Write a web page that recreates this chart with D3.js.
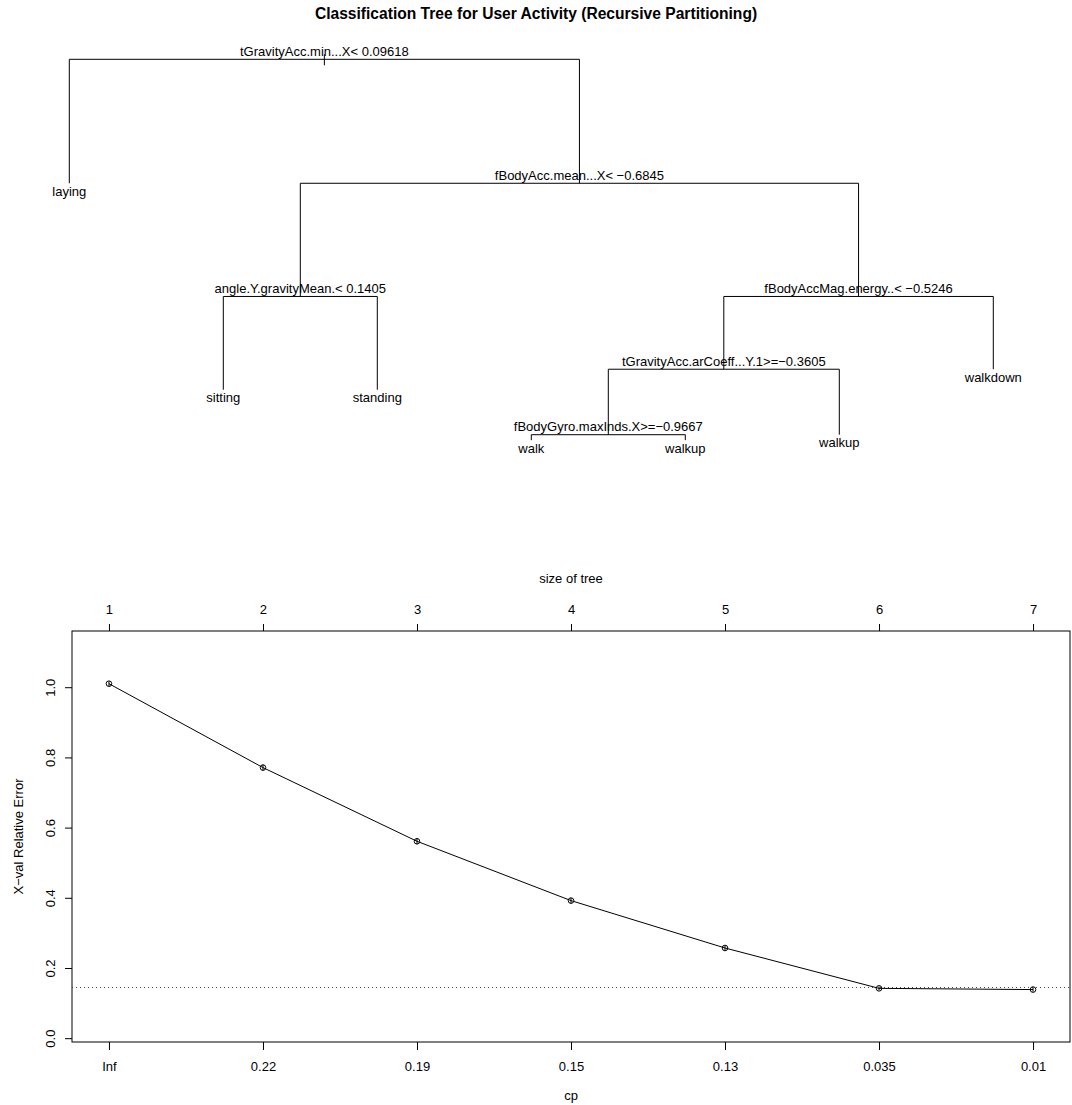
<!DOCTYPE html>
<html><head><meta charset="utf-8">
<script src="https://cdn.jsdelivr.net/npm/d3@7"></script>
<style>body{margin:0;background:#fff} svg text{font-family:"Liberation Sans",Arial,Helvetica,sans-serif;fill:#000}</style>
</head><body><script>
// ---------- data ----------
const titleText = "Classification Tree for User Activity (Recursive Partitioning)";
// rpart node numbering (child ids = 2*id, 2*id+1)
const nodeIds = [1, 2, 3, 6, 7, 12, 13, 14, 15, 28, 29, 56, 57];
const nodeLabels = [
  "tGravityAcc.min...X< 0.09618", "laying", "fBodyAcc.mean...X< \u22120.6845",
  "angle.Y.gravityMean.< 0.1405", "fBodyAccMag.energy..< \u22120.5246",
  "sitting", "standing", "tGravityAcc.arCoeff...Y.1>=\u22120.3605", "walkdown",
  "fBodyGyro.maxInds.X>=\u22120.9667", "walkup", "walk", "walkup"];
// relative improvement of each split (fraction of root error), null for leaves
const splitImprove = [0.23, null, 0.21, 0.173, 0.135, null, null, 0.1215, null, 0.0101, null, null, null];

const treeSizes = [1, 2, 3, 4, 5, 6, 7];
const cpLabels = ["Inf", "0.22", "0.19", "0.15", "0.13", "0.035", "0.01"];
const xerror = [1.010, 0.771, 0.561, 0.392, 0.257, 0.142, 0.1385];
const xstd = [0.0068, 0.0085, 0.0085, 0.0078, 0.0068, 0.0052, 0.006];
const yTicks = [0, 0.2, 0.4, 0.6, 0.8, 1.0];

// ---------- setup ----------
const W = 1072, H = 1105;
const svg = d3.select("body").append("svg").attr("width", W).attr("height", H);
const FS = 13;

svg.append("text").attr("x", 536).attr("y", 19).attr("text-anchor", "middle")
  .attr("font-weight", "bold").attr("font-size", 15.6).text(titleText);

// ---------- tree ----------
const nodes = nodeIds.map((id, i) => ({id, label: nodeLabels[i], improve: splitImprove[i]}));
const root = d3.stratify().id(d => String(d.id))
  .parentId(d => d.id === 1 ? null : String(Math.floor(d.id / 2)))(nodes);
root.sort((a, b) => a.data.id - b.data.id);
let leafIdx = 0;
root.eachAfter(n => {
  if (!n.children) n.lx = ++leafIdx;
  else n.lx = (n.children[0].lx + n.children[n.children.length - 1].lx) / 2;
});
root.eachBefore(n => { n.ry = n.parent ? n.parent.ry - n.parent.data.improve : 1; });

const tx = d3.scaleLinear().domain([1, leafIdx]).range([69.3, 993.3]);
const ty = d3.scaleLinear().domain([1, 0]).range([59.3, 598.3]);

const gT = svg.append("g").attr("stroke", "#000").attr("stroke-width", 1).attr("fill", "none");
// root stub
gT.append("line").attr("x1", tx(root.lx)).attr("x2", tx(root.lx))
  .attr("y1", ty(root.ry) - 5).attr("y2", ty(root.ry) + 6);
root.descendants().forEach(n => {
  if (n.parent) {
    gT.append("line").attr("x1", tx(n.lx)).attr("x2", tx(n.lx))
      .attr("y1", ty(n.parent.ry)).attr("y2", ty(n.ry));
  }
  if (n.children) {
    gT.append("line").attr("x1", tx(n.children[0].lx)).attr("x2", tx(n.children[1].lx))
      .attr("y1", ty(n.ry)).attr("y2", ty(n.ry));
  }
});
svg.append("g").selectAll("text").data(root.descendants()).join("text")
  .attr("x", d => tx(d.lx))
  .attr("y", d => d.children ? ty(d.ry) - 3.5 : ty(d.ry) + 12.5)
  .attr("text-anchor", "middle").attr("font-size", FS)
  .text(d => d.data.label);

// ---------- cp plot ----------
const box = {l: 72, r: 1070, t: 631, b: 1042};
const x = d3.scaleLinear().domain([0.76, 7.24]).range([box.l, box.r]);
const lo = d3.min(xerror, (v, i) => v - xstd[i]) - 0.1;
const hi = d3.max(xerror, (v, i) => v + xstd[i]) + 0.1;
const ext = 0.04 * (hi - lo);
const y = d3.scaleLinear().domain([lo - ext, hi + ext]).range([box.b, box.t]);

svg.append("rect").attr("x", box.l).attr("y", box.t).attr("width", box.r - box.l)
  .attr("height", box.b - box.t).attr("fill", "none").attr("stroke", "#000");

function styleAxis(g) {
  g.select(".domain").remove();
  g.selectAll("text").attr("font-size", FS).attr("font-family", null).attr("fill", "#000");
  g.selectAll("line").attr("stroke", "#000");
  g.attr("font-family", null).attr("font-size", FS);
}
// bottom axis (cp)
const gB = svg.append("g").attr("transform", `translate(0,${box.b})`)
  .call(d3.axisBottom(x).tickValues(treeSizes).tickFormat((d, i) => cpLabels[i]).tickSize(8).tickSizeOuter(0));
styleAxis(gB);
gB.selectAll("text").attr("y", 28.6).attr("dy", 0);
// top axis (size of tree)
const gTop = svg.append("g").attr("transform", `translate(0,${box.t})`)
  .call(d3.axisTop(x).tickValues(treeSizes).tickFormat(d3.format("d")).tickSize(7).tickSizeOuter(0));
styleAxis(gTop);
gTop.selectAll("text").attr("y", -17.4).attr("dy", 0);
// left axis
const gL = svg.append("g").attr("transform", `translate(${box.l},0)`)
  .call(d3.axisLeft(y).tickValues(yTicks).tickFormat(d3.format(".1f")).tickSize(7).tickSizeOuter(0));
styleAxis(gL);
gL.selectAll("text").attr("transform", "rotate(-90)").attr("x", 0).attr("y", -17.3)
  .attr("dy", 0).attr("text-anchor", "middle");

// axis titles
svg.append("text").attr("x", (box.l + box.r) / 2).attr("y", 582.5).attr("text-anchor", "middle")
  .attr("font-size", FS).text("size of tree");
svg.append("text").attr("x", (box.l + box.r) / 2).attr("y", 1100).attr("text-anchor", "middle")
  .attr("font-size", FS).text("cp");
svg.append("text").attr("transform", `translate(23,${(box.t + box.b) / 2}) rotate(-90)`)
  .attr("text-anchor", "middle").attr("font-size", FS).text("X\u2212val Relative Error");

// 1-SE reference line
const minI = d3.minIndex(xerror);
svg.append("line").attr("x1", box.l).attr("x2", box.r)
  .attr("y1", y(xerror[minI] + xstd[minI])).attr("y2", y(xerror[minI] + xstd[minI]))
  .attr("stroke", "#444").attr("stroke-width", 1).attr("stroke-dasharray", "1,3");

// line + points + error bars
const pts = treeSizes.map((s, i) => ({s, v: xerror[i], e: xstd[i]}));
svg.append("path").datum(pts).attr("fill", "none").attr("stroke", "#000").attr("stroke-width", 1)
  .attr("d", d3.line().x(d => x(d.s)).y(d => y(d.v)));
const gP = svg.append("g");
gP.selectAll("line.err").data(pts).join("line").attr("class", "err")
  .attr("x1", d => x(d.s)).attr("x2", d => x(d.s))
  .attr("y1", d => y(d.v - d.e)).attr("y2", d => y(d.v + d.e)).attr("stroke", "#000");
gP.selectAll("circle").data(pts).join("circle")
  .attr("cx", d => x(d.s)).attr("cy", d => y(d.v)).attr("r", 2.8)
  .attr("fill", "none").attr("stroke", "#000").attr("stroke-width", 1);
</script></body></html>
